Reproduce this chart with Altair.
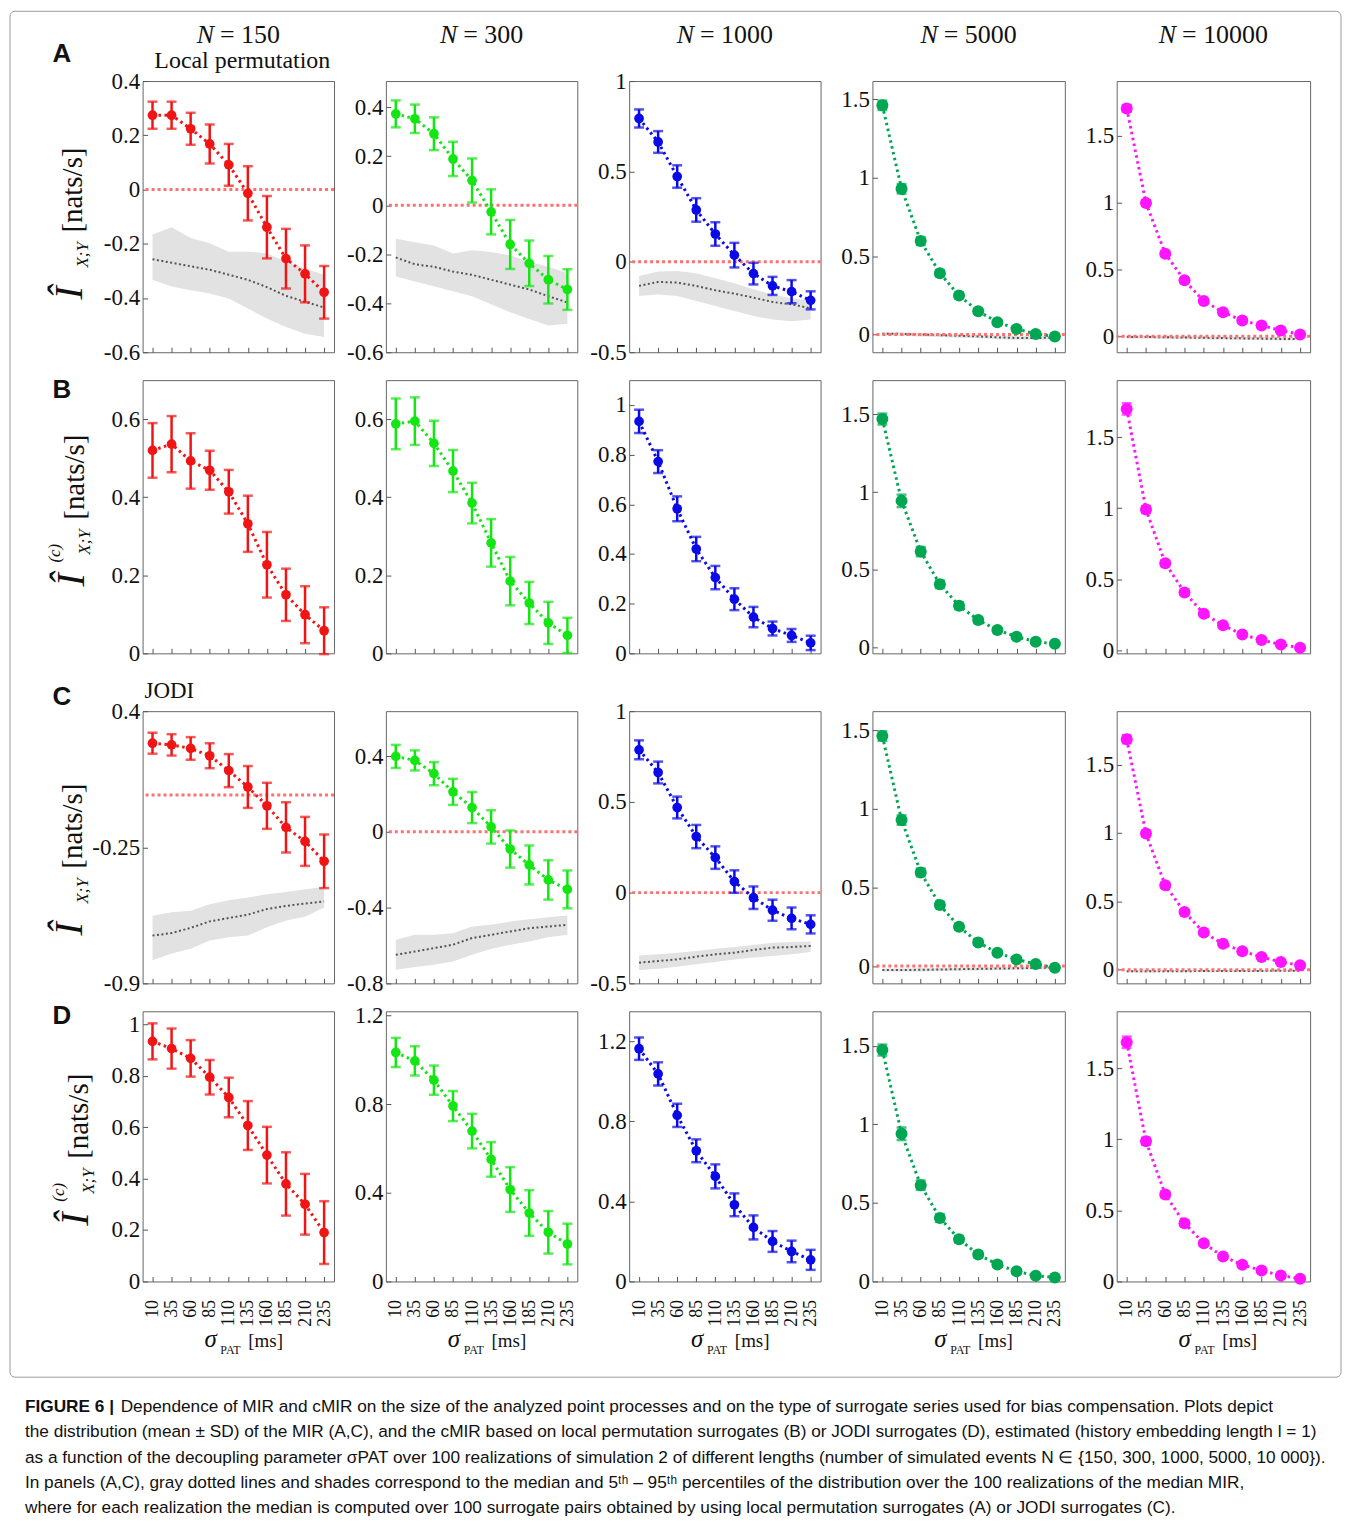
import altair as alt
import pandas as pd

SERIF = "Liberation Serif"
SANS = "Liberation Sans"

SIGMA = [10, 35, 60, 85, 110, 135, 160, 185, 210, 235]
N_VALUES = ["150", "300", "1000", "5000", "10000"]
SERIES_COLORS = ["#f01414", "#14e614", "#0a0ae6", "#00a651", "#ff14ff"]
POINT_SIZES = [95, 95, 95, 145, 145]
WIDTHS = [192, 192, 192, 193, 194]
HEIGHTS = [272, 274, 273, 271]

# ---------------- Row A : MIR, local permutation surrogates ----------------
A150_MEAN = [0.274, 0.274, 0.224, 0.168, 0.091, -0.014, -0.139, -0.255, -0.311, -0.379]
A150_SD = [0.05, 0.05, 0.059, 0.072, 0.077, 0.10, 0.115, 0.11, 0.105, 0.097]
A150_MED = [-0.257, -0.27, -0.283, -0.296, -0.314, -0.333, -0.36, -0.392, -0.414, -0.435]
A150_P5 = [-0.333, -0.358, -0.371, -0.383, -0.402, -0.439, -0.476, -0.507, -0.532, -0.544]
A150_P95 = [-0.166, -0.139, -0.179, -0.198, -0.229, -0.229, -0.235, -0.266, -0.29, -0.315]

A300_MEAN = [0.373, 0.353, 0.292, 0.189, 0.101, -0.027, -0.16, -0.237, -0.304, -0.344]
A300_SD = [0.055, 0.058, 0.067, 0.07, 0.09, 0.092, 0.1, 0.093, 0.097, 0.083]
A300_MED = [-0.213, -0.241, -0.251, -0.271, -0.284, -0.304, -0.324, -0.344, -0.371, -0.397]
A300_P5 = [-0.291, -0.311, -0.331, -0.351, -0.371, -0.404, -0.437, -0.464, -0.491, -0.484]
A300_P95 = [-0.137, -0.151, -0.164, -0.197, -0.184, -0.191, -0.204, -0.231, -0.251, -0.277]

A1000_MEAN = [0.793, 0.663, 0.472, 0.287, 0.154, 0.037, -0.065, -0.133, -0.165, -0.213]
A1000_SD = [0.05, 0.06, 0.062, 0.065, 0.065, 0.068, 0.06, 0.05, 0.064, 0.05]
A1000_MED = [-0.133, -0.111, -0.115, -0.133, -0.157, -0.176, -0.198, -0.222, -0.235, -0.257]
A1000_P5 = [-0.189, -0.18, -0.189, -0.217, -0.244, -0.272, -0.3, -0.319, -0.328, -0.319]
A1000_P95 = [-0.078, -0.054, -0.05, -0.063, -0.091, -0.119, -0.152, -0.18, -0.202, -0.217]

A5000_MEAN = [1.462, 0.93, 0.596, 0.391, 0.249, 0.149, 0.079, 0.036, 0.004, -0.013]
A5000_SD = [0.03, 0.03, 0.025, 0.02, 0.018, 0.015, 0.012, 0.01, 0.01, 0.01]
A5000_MED = [0.005, 0.004, 0.0, -0.004, -0.008, -0.012, -0.018, -0.022, -0.022, -0.02]
A5000_P5 = [-0.008, -0.008, -0.012, -0.016, -0.02, -0.024, -0.03, -0.034, -0.034, -0.032]
A5000_P95 = [0.015, 0.014, 0.01, 0.006, 0.002, -0.002, -0.006, -0.01, -0.01, -0.008]

A10000_MEAN = [1.705, 0.998, 0.618, 0.418, 0.263, 0.18, 0.118, 0.08, 0.043, 0.013]
A10000_SD = [0.025, 0.02, 0.018, 0.015, 0.015, 0.012, 0.01, 0.01, 0.01, 0.01]
A10000_MED = [-0.005, -0.006, -0.008, -0.01, -0.012, -0.014, -0.016, -0.018, -0.02, -0.02]
A10000_P5 = [-0.017, -0.018, -0.02, -0.022, -0.024, -0.026, -0.028, -0.03, -0.032, -0.032]
A10000_P95 = [0.007, 0.006, 0.004, 0.002, 0.0, -0.002, -0.004, -0.006, -0.008, -0.008]

# ---------------- Row B : cMIR, local permutation ----------------
B150_MEAN = [0.52, 0.536, 0.493, 0.469, 0.414, 0.332, 0.227, 0.15, 0.099, 0.058]
B150_SD = [0.07, 0.072, 0.071, 0.05, 0.056, 0.072, 0.084, 0.067, 0.073, 0.06]
B300_MEAN = [0.588, 0.595, 0.538, 0.467, 0.385, 0.283, 0.185, 0.129, 0.078, 0.046]
B300_SD = [0.065, 0.061, 0.058, 0.054, 0.052, 0.061, 0.062, 0.054, 0.054, 0.045]
B1000_MEAN = [0.934, 0.772, 0.582, 0.42, 0.305, 0.218, 0.146, 0.1, 0.072, 0.042]
B1000_SD = [0.047, 0.046, 0.05, 0.049, 0.047, 0.044, 0.041, 0.028, 0.026, 0.029]
B5000_MEAN = [1.47, 0.944, 0.618, 0.408, 0.27, 0.178, 0.114, 0.071, 0.039, 0.025]
B5000_SD = [0.035, 0.04, 0.03, 0.025, 0.022, 0.018, 0.015, 0.012, 0.012, 0.01]
B10000_MEAN = [1.698, 0.991, 0.613, 0.408, 0.259, 0.177, 0.113, 0.073, 0.042, 0.019]
B10000_SD = [0.04, 0.025, 0.02, 0.018, 0.015, 0.012, 0.01, 0.01, 0.01, 0.01]

# ---------------- Row C : MIR, JODI surrogates ----------------
C150_MEAN = [0.247, 0.239, 0.222, 0.187, 0.116, 0.038, -0.052, -0.155, -0.222, -0.317]
C150_SD = [0.05, 0.051, 0.054, 0.06, 0.079, 0.1, 0.11, 0.12, 0.117, 0.128]
C150_MED = [-0.672, -0.66, -0.635, -0.604, -0.588, -0.572, -0.545, -0.53, -0.519, -0.509]
C150_P5 = [-0.79, -0.758, -0.735, -0.695, -0.68, -0.672, -0.632, -0.6, -0.582, -0.538]
C150_P95 = [-0.577, -0.561, -0.553, -0.522, -0.503, -0.49, -0.475, -0.464, -0.451, -0.44]

C300_MEAN = [0.398, 0.377, 0.307, 0.211, 0.128, 0.026, -0.091, -0.175, -0.254, -0.304]
C300_SD = [0.061, 0.053, 0.061, 0.069, 0.082, 0.088, 0.098, 0.103, 0.104, 0.1]
C300_MED = [-0.649, -0.632, -0.614, -0.596, -0.561, -0.544, -0.526, -0.509, -0.5, -0.491]
C300_P5 = [-0.728, -0.714, -0.702, -0.684, -0.649, -0.619, -0.596, -0.579, -0.556, -0.544]
C300_P95 = [-0.57, -0.544, -0.544, -0.535, -0.5, -0.491, -0.474, -0.461, -0.451, -0.442]

C1000_MEAN = [0.787, 0.662, 0.469, 0.309, 0.193, 0.061, -0.028, -0.097, -0.142, -0.175]
C1000_SD = [0.052, 0.06, 0.06, 0.064, 0.062, 0.062, 0.062, 0.058, 0.06, 0.05]
C1000_MED = [-0.386, -0.377, -0.368, -0.353, -0.34, -0.331, -0.316, -0.303, -0.3, -0.294]
C1000_P5 = [-0.426, -0.419, -0.408, -0.395, -0.382, -0.368, -0.358, -0.349, -0.34, -0.327]
C1000_P95 = [-0.346, -0.34, -0.331, -0.322, -0.309, -0.3, -0.289, -0.276, -0.272, -0.27]

C5000_MEAN = [1.462, 0.928, 0.595, 0.388, 0.25, 0.15, 0.085, 0.042, 0.013, -0.011]
C5000_SD = [0.03, 0.03, 0.025, 0.02, 0.018, 0.015, 0.012, 0.01, 0.01, 0.01]
C5000_MED = [-0.025, -0.025, -0.024, -0.022, -0.02, -0.018, -0.016, -0.014, -0.012, -0.01]
C5000_P5 = [-0.035, -0.035, -0.034, -0.032, -0.03, -0.028, -0.026, -0.024, -0.022, -0.02]
C5000_P95 = [-0.015, -0.015, -0.014, -0.012, -0.01, -0.008, -0.006, -0.004, -0.002, 0.0]

C10000_MEAN = [1.685, 0.995, 0.617, 0.422, 0.271, 0.19, 0.134, 0.093, 0.056, 0.032]
C10000_SD = [0.03, 0.02, 0.018, 0.015, 0.015, 0.012, 0.01, 0.01, 0.01, 0.01]
C10000_MED = [-0.012, -0.012, -0.011, -0.011, -0.01, -0.01, -0.009, -0.009, -0.008, -0.008]
C10000_P5 = [-0.02, -0.02, -0.019, -0.019, -0.018, -0.018, -0.017, -0.017, -0.016, -0.016]
C10000_P95 = [-0.004, -0.004, -0.003, -0.003, -0.002, -0.002, -0.001, -0.001, 0.0, 0.0]

# ---------------- Row D : cMIR, JODI ----------------
D150_MEAN = [0.933, 0.905, 0.867, 0.794, 0.715, 0.606, 0.491, 0.379, 0.3, 0.19]
D150_SD = [0.07, 0.078, 0.071, 0.067, 0.077, 0.095, 0.11, 0.123, 0.118, 0.122]
D300_MEAN = [1.034, 0.996, 0.909, 0.792, 0.679, 0.551, 0.415, 0.309, 0.222, 0.169]
D300_SD = [0.066, 0.066, 0.066, 0.068, 0.078, 0.078, 0.101, 0.103, 0.096, 0.092]
D1000_MEAN = [1.163, 1.037, 0.83, 0.653, 0.525, 0.383, 0.27, 0.2, 0.15, 0.108]
D1000_SD = [0.056, 0.058, 0.058, 0.057, 0.06, 0.057, 0.06, 0.052, 0.054, 0.05]
D5000_MEAN = [1.473, 0.94, 0.613, 0.404, 0.269, 0.172, 0.108, 0.065, 0.037, 0.025]
D5000_SD = [0.035, 0.04, 0.03, 0.025, 0.02, 0.018, 0.015, 0.012, 0.01, 0.01]
D10000_MEAN = [1.682, 0.986, 0.612, 0.409, 0.269, 0.175, 0.117, 0.077, 0.042, 0.019]
D10000_SD = [0.04, 0.025, 0.02, 0.018, 0.015, 0.012, 0.01, 0.01, 0.01, 0.01]

# y-scale domains and tick values per panel
YDOM = [
    [[-0.6, 0.4], [-0.6, 0.507], [-0.5, 1.0], [-0.113, 1.617], [-0.12, 1.91]],
    [[0, 0.7], [0, 0.7], [0, 1.1], [-0.036, 1.72], [-0.02, 1.9]],
    [[-0.9, 0.4], [-0.8, 0.637], [-0.5, 1.0], [-0.11, 1.62], [-0.1, 1.89]],
    [[0, 1.05], [0, 1.22], [0, 1.35], [0, 1.72], [0, 1.9]],
]
YTICKS = [
    [[-0.6, -0.4, -0.2, 0, 0.2, 0.4], [-0.6, -0.4, -0.2, 0, 0.2, 0.4], [-0.5, 0, 0.5, 1], [0, 0.5, 1, 1.5], [0, 0.5, 1, 1.5]],
    [[0, 0.2, 0.4, 0.6], [0, 0.2, 0.4, 0.6], [0, 0.2, 0.4, 0.6, 0.8, 1], [0, 0.5, 1, 1.5], [0, 0.5, 1, 1.5]],
    [[-0.9, -0.25, 0.4], [-0.8, -0.4, 0, 0.4], [-0.5, 0, 0.5, 1], [0, 0.5, 1, 1.5], [0, 0.5, 1, 1.5]],
    [[0, 0.2, 0.4, 0.6, 0.8, 1], [0, 0.4, 0.8, 1.2], [0, 0.4, 0.8, 1.2], [0, 0.5, 1, 1.5], [0, 0.5, 1, 1.5]],
]

CAPTION_L1_BOLD = "FIGURE 6 |"
CAPTION_LINES = [
    "Dependence of MIR and cMIR on the size of the analyzed point processes and on the type of surrogate series used for bias compensation. Plots depict",
    "the distribution (mean ± SD) of the MIR (A,C), and the cMIR based on local permutation surrogates (B) or JODI surrogates (D), estimated (history embedding length l = 1)",
    "as a function of the decoupling parameter σPAT over 100 realizations of simulation 2 of different lengths (number of simulated events N ∈ {150, 300, 1000, 5000, 10 000}).",
    "In panels (A,C), gray dotted lines and shades correspond to the median and 5ᵗʰ – 95ᵗʰ percentiles of the distribution over the 100 realizations of the median MIR,",
    "where for each realization the median is computed over 100 surrogate pairs obtained by using local permutation surrogates (A) or JODI surrogates (C).",
]

LABEL_EXPR = "datum.value < 0 ? '-' + format(-datum.value, '~g') : format(datum.value, '~g')"
CAPTION_SIZE = 17.3


def txt(s, x, y, size, font=SERIF, style="normal", weight="normal", align="left",
        angle=0, color="#111111"):
    return alt.Chart(pd.DataFrame({"t": [s]})).mark_text(
        font=font, fontSize=size, fontStyle=style, fontWeight=weight, align=align,
        baseline="alphabetic", angle=angle, color=color,
    ).encode(text="t:N", x=alt.value(x), y=alt.value(y))


def y_title(bx, y0, with_c):
    parts = [txt("Î", bx, y0, 40, style="italic", angle=270)]
    if with_c:
        parts.append(txt("(c)", bx - 24, y0 - 24, 17, style="italic", angle=270))
    parts.append(txt("X;Y", bx + 6, y0 - 32, 17, style="italic", angle=270))
    parts.append(txt("[nats/s]", bx, y0 - 67, 29, angle=270))
    return parts


def x_title():
    return [
        txt("σ", 62, 337, 25, style="italic"),
        txt("PAT", 78, 344, 12),
        txt("[ms]", 106, 337, 19),
    ]


def panel(row, col, mean, sd, med=None, p5=None, p95=None, extras=()):
    w, h = WIDTHS[col], HEIGHTS[row]
    color = SERIES_COLORS[col]
    xs = alt.Scale(domain=[-3, 248], nice=False, zero=False)
    ys = alt.Scale(domain=YDOM[row][col], nice=False, zero=False)
    df = pd.DataFrame({
        "sigma": SIGMA,
        "mean": mean,
        "lo": [m - s for m, s in zip(mean, sd)],
        "hi": [m + s for m, s in zip(mean, sd)],
    })
    if row == 3:
        xaxis = alt.Axis(values=SIGMA, offset=-5, tickSize=5, domain=False, grid=False,
                         title="", labelAngle=270, labelFont=SERIF, labelFontSize=18,
                         labelPadding=18, labelColor="#111111", tickColor="#555555")
    else:
        xaxis = alt.Axis(values=SIGMA, labels=False, offset=-5, tickSize=5, domain=False,
                         grid=False, title="", tickColor="#555555")
    yaxis = alt.Axis(values=YTICKS[row][col], labelExpr=LABEL_EXPR, offset=-5, tickSize=5,
                     domain=False, grid=False, title="", labelFont=SERIF, labelFontSize=23,
                     labelPadding=3, labelColor="#111111", tickColor="#555555")
    X = alt.X("sigma:Q", scale=xs, axis=xaxis)

    def Y(field):
        return alt.Y(field, scale=ys, axis=yaxis)

    layers = []
    if med is not None:
        bdf = pd.DataFrame({"sigma": SIGMA, "med": med, "p5": p5, "p95": p95})
        layers.append(alt.Chart(bdf).mark_area(color="#e2e2e2").encode(
            x=X, y=Y("p5:Q"), y2="p95:Q"))
        layers.append(alt.Chart(bdf).mark_line(color="#555555", strokeDash=[2, 2.5],
                                               strokeWidth=2).encode(x=X, y=Y("med:Q")))
        layers.append(alt.Chart(pd.DataFrame({"z": [0]})).mark_rule(
            color="#ff7070", strokeDash=[3, 3], strokeWidth=3).encode(y=Y("z:Q")))
    layers.append(alt.Chart(df).mark_line(color=color, strokeDash=[2.5, 3.5],
                                          strokeWidth=3).encode(x=X, y=Y("mean:Q")))
    layers.append(alt.Chart(df).mark_errorbar(ticks=True, size=10, thickness=2.5,
                                              color=color).encode(
        x=X, y=Y("lo:Q"), y2="hi:Q"))
    layers.append(alt.Chart(df).mark_circle(color=color, size=POINT_SIZES[col],
                                            opacity=1).encode(x=X, y=Y("mean:Q")))
    layers.extend(extras)
    return alt.layer(*layers).properties(width=w, height=h)


def header(col):
    w = WIDTHS[col]
    tw = 44.5 + 13 * len(N_VALUES[col])
    split = w / 2 - tw / 2 + 17.3
    return [
        txt("N", split, -38, 26, style="italic", align="right"),
        txt("=\u00a0" + N_VALUES[col], split + 6, -38, 26),
    ]


# ---- build cells ----
rowA_data = [
    (A150_MEAN, A150_SD, A150_MED, A150_P5, A150_P95),
    (A300_MEAN, A300_SD, A300_MED, A300_P5, A300_P95),
    (A1000_MEAN, A1000_SD, A1000_MED, A1000_P5, A1000_P95),
    (A5000_MEAN, A5000_SD, A5000_MED, A5000_P5, A5000_P95),
    (A10000_MEAN, A10000_SD, A10000_MED, A10000_P5, A10000_P95),
]
rowB_data = [(B150_MEAN, B150_SD), (B300_MEAN, B300_SD), (B1000_MEAN, B1000_SD),
             (B5000_MEAN, B5000_SD), (B10000_MEAN, B10000_SD)]
rowC_data = [
    (C150_MEAN, C150_SD, C150_MED, C150_P5, C150_P95),
    (C300_MEAN, C300_SD, C300_MED, C300_P5, C300_P95),
    (C1000_MEAN, C1000_SD, C1000_MED, C1000_P5, C1000_P95),
    (C5000_MEAN, C5000_SD, C5000_MED, C5000_P5, C5000_P95),
    (C10000_MEAN, C10000_SD, C10000_MED, C10000_P5, C10000_P95),
]
rowD_data = [(D150_MEAN, D150_SD), (D300_MEAN, D300_SD), (D1000_MEAN, D1000_SD),
             (D5000_MEAN, D5000_SD), (D10000_MEAN, D10000_SD)]

cells = []
# Row A
for c, (m, s, md, p5, p95) in enumerate(rowA_data):
    extras = header(c)
    if c == 0:
        frame = alt.Chart(pd.DataFrame({"f": [0]})).mark_rect(
            fillOpacity=0, stroke="#9a9a9a", strokeWidth=1, cornerRadius=5).encode(
            x=alt.value(-133), x2=alt.value(1202), y=alt.value(-70), y2=alt.value(1300))
        extras = [frame] + extras + [
            txt("Local permutation", 100, -13, 24, align="center"),
            txt("A", -81, -19, 26, font=SANS, weight="bold", align="center"),
        ] + y_title(-61, 219, False)
    cells.append(panel(0, c, m, s, md, p5, p95, extras))
# Row B
for c, (m, s) in enumerate(rowB_data):
    extras = []
    if c == 0:
        extras = [txt("B", -81, 18, 26, font=SANS, weight="bold", align="center")] + \
                 y_title(-59, 207, True)
    cells.append(panel(1, c, m, s, extras=extras))
# spacer row
for c in range(5):
    cells.append(alt.Chart(pd.DataFrame({"v": [0]})).mark_point(opacity=0).properties(
        width=WIDTHS[c], height=2, view=alt.ViewBackground(stroke="transparent")))
# Row C
for c, (m, s, md, p5, p95) in enumerate(rowC_data):
    extras = []
    if c == 0:
        extras = [
            txt("JODI", 2, -13, 23),
            txt("C", -81, -6, 26, font=SANS, weight="bold", align="center"),
        ] + y_title(-61, 225, False)
    cells.append(panel(2, c, m, s, md, p5, p95, extras))
# Row D
for c, (m, s) in enumerate(rowD_data):
    extras = x_title()
    if c == 0:
        extras = extras + [txt("D", -81, 13, 26, font=SANS, weight="bold", align="center")] + \
                 y_title(-55, 215, True)
        extras.append(txt(CAPTION_L1_BOLD, -118, 402, CAPTION_SIZE, font=SANS, weight="bold"))
        extras.append(txt(CAPTION_LINES[0], -22, 402, CAPTION_SIZE, font=SANS))
        for i, line in enumerate(CAPTION_LINES[1:]):
            extras.append(txt(line, -118, 427.5 + 25.4 * i, CAPTION_SIZE, font=SANS))
    cells.append(panel(3, c, m, s, extras=extras))

chart = alt.concat(
    *cells, columns=5, spacing={"row": 28, "column": 52}, align="each", bounds="flush"
).properties(
    padding={"left": 1, "top": 0, "right": 5, "bottom": 5},
    background="white",
).configure_view(
    stroke="#666666", strokeWidth=1
).configure_axis(
    labelFont=SERIF, labelColor="#111111", tickColor="#555555"
).configure_axisY(
    labelFont=SERIF, labelFontSize=23
).configure_axisX(
    labelFont=SERIF, labelFontSize=18
)

chart.save("out.html", embed_options={"renderer": "svg", "actions": False})
